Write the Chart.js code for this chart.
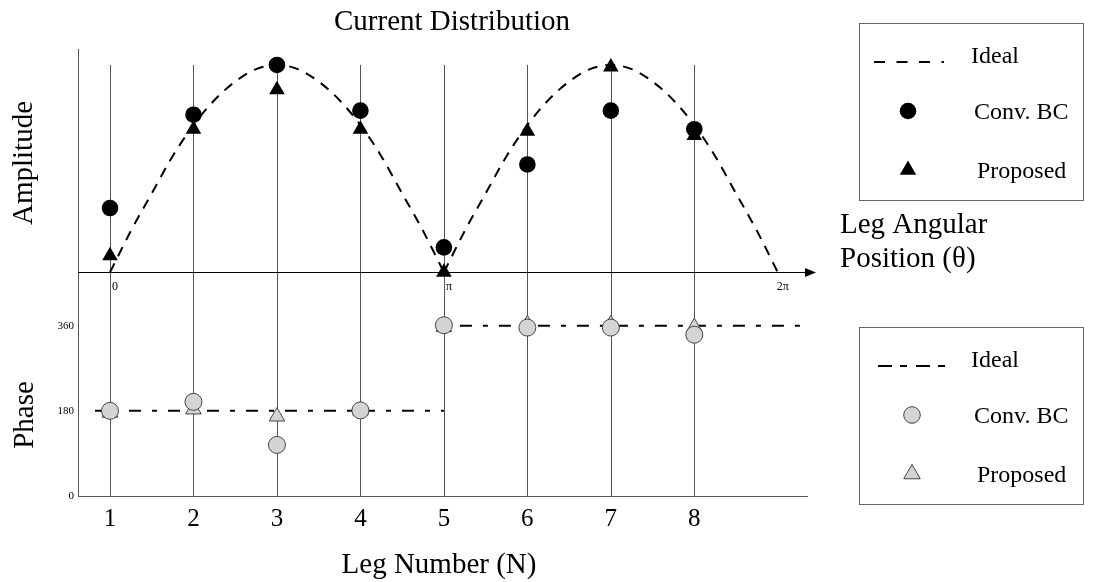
<!DOCTYPE html>
<html>
<head>
<meta charset="utf-8">
<script src="https://cdn.jsdelivr.net/npm/chart.js@4"></script>
<style>
  html, body { margin: 0; padding: 0; background: #fff; }
  #chart { display: block; }
</style>
</head>
<body>
<canvas id="chart" width="1093" height="582"></canvas>
<script>
// leg numbers and measured values
const legs = [1, 2, 3, 4, 5, 6, 7, 8];
const ampConvBC = [0.31, 0.76, 1.00, 0.78, 0.12, 0.52, 0.78, 0.69];
const ampProposed = [0.08, 0.69, 0.88, 0.69, 0.00, 0.68, 0.99, 0.66];
const phaseConvBC = [180, 199, 108, 181, 361, 356, 356, 341];
const phaseProposed = [176, 183, 168, 181, 357, 363, 363, 357];

// ideal amplitude curve, every quarter leg
const idealAmpLegs = [1, 1.25, 1.5, 1.75, 2, 2.25, 2.5, 2.75, 3, 3.25, 3.5, 3.75, 4, 4.25, 4.5, 4.75, 5,
                      5.25, 5.5, 5.75, 6, 6.25, 6.5, 6.75, 7, 7.25, 7.5, 7.75, 8, 8.25, 8.5, 8.75, 9];
const idealAmp = [0, 0.2, 0.38, 0.56, 0.71, 0.83, 0.92, 0.98, 1, 0.98, 0.92, 0.83, 0.71, 0.56, 0.38, 0.2, 0,
                  0.2, 0.38, 0.56, 0.71, 0.83, 0.92, 0.98, 1, 0.98, 0.92, 0.83, 0.71, 0.56, 0.38, 0.2, 0];

// ideal phase steps
const idealPhaseLowLegs = [0.82, 5];
const idealPhaseLow = [180, 180];
const idealPhaseHighLegs = [5, 9.35];
const idealPhaseHigh = [360, 360];

const phaseTicks = [0, 180, 360];
const angleTickLegs = [1, 5, 9];
const angleTickLabels = ['0', 'π', '2π'];

const SERIF = "'Liberation Serif', 'Times New Roman', serif";

function pts(xs, ys) {
    return xs.map((x, i) => ({ x: x, y: ys[i] }));
}

const split = idealAmpLegs.indexOf(5);
const idealLeft = pts(idealAmpLegs.slice(0, split + 1), idealAmp.slice(0, split + 1));
const idealRight = pts(idealAmpLegs.slice(split), idealAmp.slice(split));

function markerSet(data, axis, style, radius, fill, border) {
    return {
        data: data,
        yAxisID: axis,
        showLine: false,
        pointStyle: style,
        pointRadius: radius,
        pointHoverRadius: radius,
        backgroundColor: fill,
        borderColor: border,
        pointBorderWidth: fill === '#000' ? 0 : 1,
        pointBackgroundColor: fill,
        pointBorderColor: border
    };
}

function dashedSet(data, axis, dash, offset) {
    return {
        data: data,
        yAxisID: axis,
        borderColor: '#000',
        borderWidth: 2,
        borderDash: dash,
        borderDashOffset: offset || 0,
        pointRadius: 0,
        fill: false,
        cubicInterpolationMode: 'monotone'
    };
}

function drawTriangle(ctx, x, y, r) {
    ctx.beginPath();
    ctx.moveTo(x, y - r);
    ctx.lineTo(x + r * 0.866, y + r / 2);
    ctx.lineTo(x - r * 0.866, y + r / 2);
    ctx.closePath();
}

const decor = {
    id: 'decor',
    beforeDatasetsDraw(chart) {
        const ctx = chart.ctx;
        const xs = chart.scales.x;
        const ya = chart.scales.yAmp;
        const bottom = chart.chartArea.bottom;
        ctx.save();
        // vertical leg lines
        ctx.strokeStyle = '#555';
        ctx.lineWidth = 1;
        legs.forEach(l => {
            const px = Math.round(xs.getPixelForValue(l)) + 0.5;
            ctx.beginPath();
            ctx.moveTo(px, ya.getPixelForValue(1));
            ctx.lineTo(px, bottom);
            ctx.stroke();
        });
        // angular position axis with arrow
        const y0 = Math.round(ya.getPixelForValue(0)) + 0.5;
        ctx.strokeStyle = '#000';
        ctx.beginPath();
        ctx.moveTo(chart.chartArea.left, y0);
        ctx.lineTo(806, y0);
        ctx.stroke();
        ctx.fillStyle = '#000';
        ctx.beginPath();
        ctx.moveTo(816, y0);
        ctx.lineTo(805, y0 - 4.5);
        ctx.lineTo(805, y0 + 4.5);
        ctx.closePath();
        ctx.fill();
        // angle labels
        ctx.font = '12px ' + SERIF;
        ctx.textBaseline = 'alphabetic';
        ctx.textAlign = 'left';
        angleTickLegs.forEach((l, i) => {
            const px = xs.getPixelForValue(l);
            ctx.fillText(angleTickLabels[i], px + (i === 2 ? -1 : 2), 290);
        });
        ctx.restore();
    },
    afterDraw(chart) {
        const ctx = chart.ctx;
        ctx.save();
        ctx.fillStyle = '#000';
        ctx.textBaseline = 'alphabetic';
        ctx.font = '29px ' + SERIF;
        ctx.textAlign = 'center';
        ctx.fillText('Current Distribution', 452, 30);
        ctx.fillText('Leg Number (N)', 439, 573);
        ctx.textAlign = 'left';
        ctx.fillText('Leg Angular', 840, 233);
        ctx.fillText('Position (θ)', 840, 267);
        // rotated axis names
        ctx.textAlign = 'center';
        ctx.save();
        ctx.translate(32, 163);
        ctx.rotate(-Math.PI / 2);
        ctx.fillText('Amplitude', 0, 0);
        ctx.restore();
        ctx.save();
        ctx.translate(33, 415);
        ctx.rotate(-Math.PI / 2);
        ctx.fillText('Phase', 0, 0);
        ctx.restore();

        // legend boxes
        const boxes = [
            { top: 23, fill: '#000', border: '#000', dash: [11, 11.5], dashX: [874, 944], offs: 0 },
            { top: 327, fill: '#d4d4d4', border: '#444', dash: [14, 8, 7, 9], dashX: [878, 946], offs: 4 }
        ];
        boxes.forEach(b => {
            ctx.strokeStyle = '#666';
            ctx.lineWidth = 1;
            ctx.setLineDash([]);
            ctx.strokeRect(859.5, b.top + 0.5, 224, 177);
            // ideal dash sample
            ctx.strokeStyle = '#000';
            ctx.lineWidth = 2;
            ctx.setLineDash(b.dash);
            ctx.beginPath();
            ctx.moveTo(b.dashX[0], b.top + 39);
            ctx.lineTo(b.dashX[1], b.top + 39);
            ctx.stroke();
            ctx.setLineDash([]);
            // markers
            const mx = 908 + b.offs;
            ctx.fillStyle = b.fill;
            ctx.strokeStyle = b.border;
            ctx.lineWidth = 1;
            ctx.beginPath();
            ctx.arc(mx, b.top + 88, 8.3, 0, Math.PI * 2);
            ctx.fill();
            if (b.fill !== '#000') ctx.stroke();
            drawTriangle(ctx, mx, b.top + 147, 9.5);
            ctx.fill();
            if (b.fill !== '#000') ctx.stroke();
            // texts
            ctx.fillStyle = '#000';
            ctx.font = '24px ' + SERIF;
            ctx.textAlign = 'left';
            ctx.fillText('Ideal', 971, b.top + 40);
            ctx.fillText('Conv. BC', 974, b.top + 96);
            ctx.fillText('Proposed', 977, b.top + 155);
        });
        ctx.restore();
    }
};

new Chart(document.getElementById('chart'), {
    type: 'line',
    data: {
        datasets: [
            markerSet(pts(legs, ampConvBC), 'yAmp', 'circle', 8.3, '#000', '#000'),
            markerSet(pts(legs, ampProposed), 'yAmp', 'triangle', 9, '#000', '#000'),
            markerSet(pts(legs, phaseConvBC), 'yPhase', 'circle', 8.5, '#d4d4d4', '#444'),
            markerSet(pts(legs, phaseProposed), 'yPhase', 'triangle', 9, '#d4d4d4', '#444'),
            dashedSet(idealLeft, 'yAmp', [10, 8]),
            dashedSet(idealRight, 'yAmp', [10, 8]),
            dashedSet(pts(idealPhaseLowLegs, idealPhaseLow), 'yPhase', [12, 11, 5, 11], 5),
            dashedSet(pts(idealPhaseHighLegs, idealPhaseHigh), 'yPhase', [5, 11, 12, 11])
        ]
    },
    options: {
        responsive: false,
        animation: false,
        events: [],
        layout: { padding: { left: 0, top: 49, right: 286, bottom: 0 } },
        plugins: {
            legend: { display: false },
            tooltip: { enabled: false },
            title: { display: false }
        },
        scales: {
            x: {
                type: 'linear',
                position: 'bottom',
                min: 0.6166,
                max: 9.35,
                afterBuildTicks: s => { s.ticks = legs.map(v => ({ value: v })); },
                afterFit: s => { s.height = 86; },
                ticks: {
                    color: '#000',
                    font: { family: SERIF, size: 25 },
                    padding: 8,
                    maxRotation: 0,
                    autoSkip: false
                },
                grid: { display: false, drawTicks: false },
                border: { display: true, color: '#555', width: 1 }
            },
            yPhase: {
                type: 'linear',
                position: 'left',
                min: 0,
                max: 945,
                afterBuildTicks: s => { s.ticks = phaseTicks.map(v => ({ value: v })); },
                afterFit: s => { s.width = 78; },
                ticks: {
                    color: '#000',
                    font: { family: SERIF, size: 11 },
                    padding: 4
                },
                grid: { display: false, drawTicks: false },
                border: { display: true, color: '#555', width: 1 }
            },
            yAmp: {
                type: 'linear',
                display: false,
                min: -1.079,
                max: 1.077
            }
        }
    },
    plugins: [decor]
});
</script>
</body>
</html>
